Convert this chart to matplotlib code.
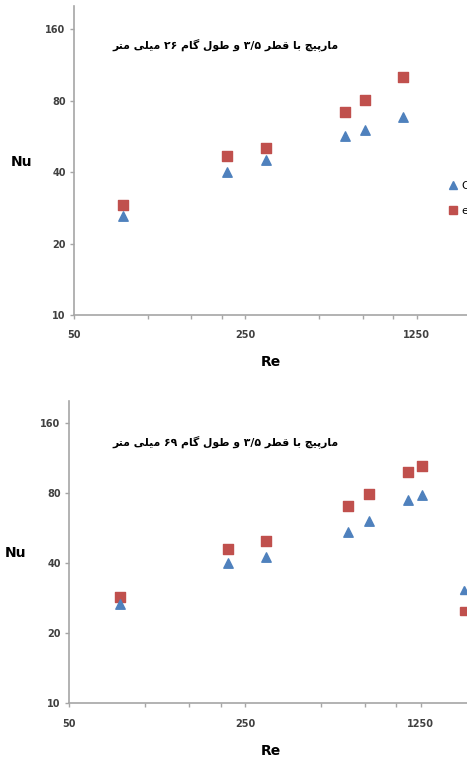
import matplotlib
matplotlib.use("Agg")
import matplotlib.pyplot as plt
from matplotlib.ticker import FixedLocator, NullFormatter
from matplotlib.lines import Line2D

# data (Re vs Nu, log-log)
re_top = [79.5, 211, 302, 635, 771, 1094]
nu_corr_top = [26.1, 39.9, 45.1, 56.7, 60.1, 68.4]
nu_exp_top = [29.1, 46.6, 50.6, 71.4, 80.4, 100.8]

re_bot = [79.7, 214, 302, 641, 775, 1115, 1267]
nu_corr_bot = [26.7, 40.1, 42.6, 54.4, 61.0, 74.9, 78.7]
nu_exp_bot = [28.7, 46.2, 49.9, 70.8, 79.7, 98.8, 104.5]

title_top = "مارپیچ با قطر ۳/۵ و طول گام ۲۶ میلی متر"
title_bot = "مارپیچ با قطر ۳/۵ و طول گام ۶۹ میلی متر"
legend_labels = ["Correlation", "experimental"]

x_major = [50, 250, 1250]
x_minor = [100, 150, 200, 500, 750, 1000]
y_major = [10, 20, 40, 80, 160]

BLUE = "#4F81BD"
RED = "#C0504D"
AXIS_GRAY = "#A6A6A6"

# simple persian shaping (matplotlib has no RTL / joining support)
FORMS = {
    "ا": ("\uFE8D", "\uFE8E", None, None),
    "ب": ("\uFE8F", "\uFE90", "\uFE91", "\uFE92"),
    "ت": ("\uFE95", "\uFE96", "\uFE97", "\uFE98"),
    "ر": ("\uFEAD", "\uFEAE", None, None),
    "ط": ("\uFEC1", "\uFEC2", "\uFEC3", "\uFEC4"),
    "ق": ("\uFED5", "\uFED6", "\uFED7", "\uFED8"),
    "ل": ("\uFEDD", "\uFEDE", "\uFEDF", "\uFEE0"),
    "م": ("\uFEE1", "\uFEE2", "\uFEE3", "\uFEE4"),
    "و": ("\uFEED", "\uFEEE", None, None),
    "پ": ("\uFB56", "\uFB57", "\uFB58", "\uFB59"),
    "چ": ("\uFB7A", "\uFB7B", "\uFB7C", "\uFB7D"),
    "گ": ("\uFB92", "\uFB93", "\uFB94", "\uFB95"),
    "ی": ("\uFBFC", "\uFBFD", "\uFBFE", "\uFBFF"),
}


def shape_word(word):
    if word[0] not in FORMS:
        return word  # numbers stay left-to-right
    out = []
    for i, ch in enumerate(word):
        iso, fin, ini, med = FORMS[ch]
        prev_joins = i > 0 and FORMS[word[i - 1]][2] is not None
        next_joins = i < len(word) - 1 and ini is not None
        if prev_joins and next_joins:
            out.append(med)
        elif prev_joins:
            out.append(fin)
        elif next_joins:
            out.append(ini)
        else:
            out.append(iso)
    return "".join(reversed(out))


def rtl(text):
    return " ".join(shape_word(w) for w in reversed(text.split(" ")))


def style_axes(ax, xmax):
    ax.set_xscale("log")
    ax.set_yscale("log")
    ax.set_xlim(50, xmax)
    ax.set_ylim(10, 200)
    ax.xaxis.set_major_locator(FixedLocator(x_major))
    ax.xaxis.set_minor_locator(FixedLocator(x_minor))
    ax.xaxis.set_minor_formatter(NullFormatter())
    ax.set_xticklabels([str(v) for v in x_major])
    ax.yaxis.set_major_locator(FixedLocator(y_major))
    ax.yaxis.set_minor_locator(FixedLocator([]))
    ax.set_yticklabels([str(v) for v in y_major])
    for s in ["top", "right"]:
        ax.spines[s].set_visible(False)
    for s in ["left", "bottom"]:
        ax.spines[s].set_color(AXIS_GRAY)
        ax.spines[s].set_linewidth(1.2)
    ax.tick_params(which="both", colors=AXIS_GRAY, labelcolor="#404040",
                   labelsize=7, direction="out", length=3, width=1)
    ax.tick_params(axis="x", pad=8)
    ax.tick_params(axis="y", pad=3)
    for lab in ax.get_xticklabels() + ax.get_yticklabels():
        lab.set_fontweight("bold")


fig = plt.figure(figsize=(4.67, 7.6), dpi=100)

# plot areas run past the right edge of the picture, as in the cropped original
ax1 = fig.add_axes([74 / 467, 445 / 760, 393 / 467, 309 / 760])
ax2 = fig.add_axes([69 / 467, 56.7 / 760, 398 / 467, 302.5 / 760])

panels = [
    (ax1, 2000, re_top, nu_corr_top, nu_exp_top, 22, 162, 362,
     (449 / 467, 1 - 181 / 760), 1.35),
    (ax2, 1906, re_bot, nu_corr_bot, nu_exp_bot, 15, 553, 751,
     (460 / 467, 1 - 585.5 / 760), 1.0),
]

for ax, xmax, re_vals, corr, exp, nu_x, nu_y, lab_y, leg_anchor, spacing in panels:
    style_axes(ax, xmax)
    ax.scatter(re_vals, exp, marker="s", s=46, color=RED, zorder=3)
    ax.scatter(re_vals, corr, marker="^", s=46, color=BLUE, zorder=4)
    handles = [
        Line2D([], [], marker="^", linestyle="", color=BLUE, markersize=6),
        Line2D([], [], marker="s", linestyle="", color=RED, markersize=5.5),
    ]
    fig.legend(handles, legend_labels, loc="upper left", bbox_to_anchor=leg_anchor,
               frameon=False, fontsize=8, handlelength=0.8, handletextpad=0.3,
               labelspacing=spacing, borderpad=0, borderaxespad=0)
    fig.text(nu_x / 467, 1 - nu_y / 760, "Nu",
             fontsize=10, fontweight="bold", ha="center", va="center")
    fig.text(271 / 467, 1 - lab_y / 760, "Re",
             fontsize=10, fontweight="bold", ha="center", va="center")

fig.text(226 / 467, 1 - 45 / 760, rtl(title_top), fontsize=7.8,
         fontweight="bold", family=["DejaVu Sans"], ha="center", va="center")
fig.text(226 / 467, 1 - 442 / 760, rtl(title_bot), fontsize=7.8,
         fontweight="bold", family=["DejaVu Sans"], ha="center", va="center")

fig.savefig("out.png", dpi=100)
